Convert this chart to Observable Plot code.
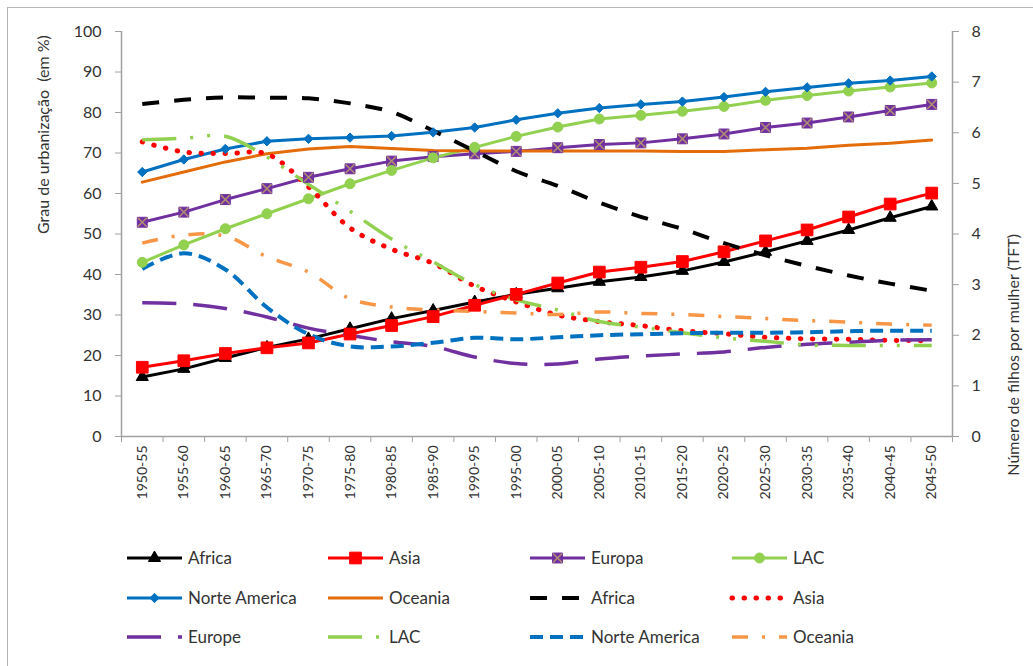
<!DOCTYPE html>
<html>
<head>
<meta charset="utf-8">
<script src="https://cdn.jsdelivr.net/npm/d3@7"></script>
<script src="https://cdn.jsdelivr.net/npm/@observablehq/plot@0.6"></script>
<style>
  html, body { margin: 0; padding: 0; background: #fff; }
  #wrap { position: relative; width: 1033px; height: 666px; overflow: hidden; background: #fff; font-family: Lato, "Open Sans", sans-serif; }
  #frame { position: absolute; left: 7px; top: 7px; width: 1100px; height: 700px; border-left: 1.5px solid #b4b4b4; border-top: 1.5px solid #b4b4b4; }
  #chart { position: absolute; left: 0; top: 0; }
  #legend { position: absolute; left: 0; top: 530px; }
</style>
</head>
<body>
<div id="wrap"><div id="frame"></div><div id="chart"></div><div id="legend"></div></div>
<script>
// ---- data ----
const periods = ["1950-55","1955-60","1960-65","1965-70","1970-75","1975-80","1980-85","1985-90","1990-95","1995-00",
                 "2000-05","2005-10","2010-15","2015-20","2020-25","2025-30","2030-35","2035-40","2040-45","2045-50"];

// urbanization (%), left axis
const urbAfrica   = [14.7,16.7,19.4,22.0,24.1,26.6,29.1,31.1,33.2,35.1,36.6,38.2,39.4,40.9,43.1,45.6,48.3,51.0,54.0,56.8];
const urbAsia     = [17.1,18.7,20.5,21.9,23.1,25.3,27.4,29.6,32.4,35.1,37.9,40.6,41.8,43.2,45.6,48.3,51.0,54.2,57.4,60.1];
const urbEuropa   = [52.9,55.4,58.5,61.2,64.0,66.1,68.0,69.1,69.8,70.4,71.3,72.1,72.5,73.5,74.7,76.3,77.4,78.9,80.5,82.0];
const urbLAC      = [43.0,47.3,51.3,55.0,58.7,62.4,65.7,68.8,71.4,74.1,76.4,78.4,79.3,80.3,81.5,83.0,84.2,85.3,86.3,87.3];
const urbNorteAm  = [65.3,68.4,71.0,72.9,73.5,73.8,74.2,75.1,76.3,78.2,79.8,81.1,82.0,82.7,83.8,85.1,86.2,87.2,87.9,88.9];
const urbOceania  = [62.8,65.3,67.8,69.8,71.0,71.6,71.1,70.6,70.5,70.5,70.5,70.5,70.5,70.4,70.4,70.8,71.2,71.9,72.4,73.2];

// total fertility rate (children per woman), right axis
const tftAfrica   = [6.57,6.65,6.70,6.69,6.68,6.58,6.41,6.04,5.64,5.24,4.95,4.62,4.34,4.10,3.82,3.58,3.37,3.18,3.02,2.88];
const tftAsia     = [5.82,5.62,5.59,5.58,4.93,4.12,3.70,3.42,2.97,2.66,2.40,2.27,2.19,2.09,2.03,1.96,1.93,1.92,1.90,1.89];
const tftEurope   = [2.64,2.62,2.53,2.36,2.14,2.00,1.87,1.78,1.57,1.44,1.43,1.53,1.59,1.63,1.67,1.76,1.82,1.86,1.90,1.91];
const tftLAC      = [5.86,5.89,5.93,5.52,4.98,4.45,3.90,3.45,3.00,2.70,2.50,2.27,2.16,2.05,1.95,1.88,1.81,1.80,1.80,1.80];
const tftNorteAm  = [3.31,3.62,3.30,2.55,2.02,1.78,1.78,1.85,1.95,1.92,1.96,2.00,2.02,2.04,2.05,2.05,2.06,2.08,2.09,2.09];
const tftOceania  = [3.82,3.98,3.96,3.55,3.25,2.72,2.56,2.50,2.47,2.44,2.41,2.46,2.43,2.41,2.37,2.33,2.29,2.26,2.22,2.20];

const leftTicks  = [0,10,20,30,40,50,60,70,80,90,100];
const rightTicks = [0,1,2,3,4,5,6,7,8];
const leftTitle  = "Grau de urbanização  (em %)";
const rightTitle = "Número de filhos por mulher (TFT)";

// ---- styles ----
const K = 100 / 8; // secondary axis factor (0-8 mapped on 0-100)
const C = {black:"#000000", red:"#ff0000", purple:"#7030a0", green:"#92d050", blue:"#0070c0", orange:"#e46c0a", orangeL:"#f79646"};

const urbSeries = [
  {name:"Africa", data:urbAfrica, color:C.black, symbol:"triangle", r:4.5},
  {name:"Asia", data:urbAsia, color:C.red, symbol:"square", r:6.6},
  {name:"Europa", data:urbEuropa, color:C.purple, symbol:"square", r:5.6, cross:true},
  {name:"LAC", data:urbLAC, color:C.green, symbol:"circle", r:5},
  {name:"Norte America", data:urbNorteAm, color:C.blue, symbol:"diamond2", r:4.2},
  {name:"Oceania", data:urbOceania, color:C.orange, symbol:null}
];
const tftSeries = [
  {name:"Africa", data:tftAfrica, color:C.black, dash:"17 15", w:4, cap:"butt"},
  {name:"Asia", data:tftAsia, color:C.red, dash:"0.5 11.5", w:5, cap:"round"},
  {name:"Europe", data:tftEurope, color:C.purple, dash:"34 17", w:3.5, cap:"butt"},
  {name:"LAC", data:tftLAC, color:C.green, dash:"34 14 3 14 3 14", w:3.5, cap:"butt"},
  {name:"Norte America", data:tftNorteAm, color:C.blue, dash:"13 7", w:4, cap:"butt"},
  {name:"Oceania", data:tftOceania, color:C.orangeL, dash:"16 14 3 14", w:3.5, cap:"butt"}
];

const idx = (d, i) => i;
const marks = [];

// axes
marks.push(Plot.axisY({ticks: leftTicks, tickSize: 6, tickPadding: 14, label: null, stroke: "#a0a0a0", fontSize: 16}));
marks.push(Plot.axisY({anchor: "right", ticks: rightTicks.map(v => v * K), tickFormat: d => String(Math.round(d / K)),
  tickSize: 6, tickPadding: 13, label: null, stroke: "#a0a0a0", fontSize: 16}));
marks.push(Plot.axisX({ticks: d3.range(periods.length), tickFormat: i => periods[i], tickRotate: -90,
  tickSize: 0, tickPadding: 9, label: null, fontSize: 14}));
marks.push(Plot.axisX({ticks: d3.range(periods.length + 1).map(i => i - 0.5), tickFormat: () => "",
  tickSize: 6, label: null, stroke: "#a0a0a0"}));
marks.push(Plot.ruleX([-0.5], {stroke: "#a0a0a0", strokeWidth: 1.5}));
marks.push(Plot.ruleX([periods.length - 0.5], {stroke: "#a0a0a0", strokeWidth: 1.5}));
marks.push(Plot.ruleY([0], {stroke: "#a0a0a0", strokeWidth: 1.5}));

// axis titles
marks.push(Plot.text([leftTitle], {frameAnchor: "left", rotate: -90, dx: -78, fontSize: 16, fill: "#333"}));
marks.push(Plot.text([rightTitle], {frameAnchor: "right", rotate: -90, dx: 61, fontSize: 16, fill: "#333"}));

// urbanization lines
for (const s of urbSeries) {
  marks.push(Plot.line(s.data, {x: idx, y: d => d, stroke: s.color, strokeWidth: 3}));
}
// fertility lines (secondary axis)
for (const s of tftSeries) {
  marks.push(Plot.line(s.data, {x: idx, y: d => d * K, stroke: s.color, strokeWidth: s.w,
    strokeDasharray: s.dash, strokeLinecap: s.cap, curve: "catmull-rom"}));
}
// markers
for (const s of urbSeries) {
  if (!s.symbol) continue;
  marks.push(Plot.dot(s.data, {x: idx, y: d => d, symbol: s.symbol, r: s.r, fill: s.color, stroke: s.color, strokeWidth: 1}));
  if (s.cross) marks.push(Plot.dot(s.data, {x: idx, y: d => d, symbol: "times", r: 4.2, stroke: "#b09070", strokeWidth: 1.5}));
}

const chart = Plot.plot({
  width: 1033, height: 530,
  marginLeft: 121, marginRight: 81, marginTop: 31, marginBottom: 94,
  x: {type: "linear", domain: [-0.5, periods.length - 0.5]},
  y: {domain: [0, 100]},
  style: {fontFamily: "Lato, 'Open Sans', sans-serif", color: "#333", background: "transparent", overflow: "visible"},
  marks
});
document.getElementById("chart").append(chart);

// ---- legend (below the chart) ----
const legendItems = [
  ...urbSeries.map(s => ({...s, kind: "urb"})),
  ...tftSeries.map(s => ({...s, kind: "tft"}))
];
const colX = [127, 328, 530, 732];
const rowY = [28, 68, 107];
const lsvg = d3.select("#legend").append("svg").attr("width", 1033).attr("height", 136)
  .style("font-family", "Lato, 'Open Sans', sans-serif");
legendItems.forEach((it, k) => {
  const x0 = colX[k % 4], y0 = rowY[Math.floor(k / 4)];
  const g = lsvg.append("g").attr("transform", `translate(${x0},${y0})`);
  if (it.kind === "urb") {
    g.append("line").attr("x1", 0).attr("x2", 55).attr("stroke", it.color).attr("stroke-width", 3);
    if (it.symbol) {
      const sym = {triangle: d3.symbolTriangle, square: d3.symbolSquare, circle: d3.symbolCircle, diamond2: d3.symbolDiamond2}[it.symbol];
      g.append("path").attr("transform", "translate(27.5,0)").attr("d", d3.symbol(sym, Math.PI * it.r * it.r)())
        .attr("fill", it.color).attr("stroke", it.color);
      if (it.cross) g.append("path").attr("transform", "translate(27.5,0)")
        .attr("d", d3.symbol(d3.symbolTimes, Math.PI * 4.2 * 4.2)()).attr("fill", "none").attr("stroke", "#b09070").attr("stroke-width", 1.5);
    }
  } else {
    g.append("line").attr("x1", 0).attr("x2", 55).attr("stroke", it.color).attr("stroke-width", it.w)
      .attr("stroke-dasharray", it.dash).attr("stroke-linecap", it.cap);
  }
  g.append("text").attr("x", 61).attr("y", 0).attr("dy", "0.35em").attr("font-size", 17).attr("fill", "#333").text(it.name);
});
</script>
</body>
</html>
